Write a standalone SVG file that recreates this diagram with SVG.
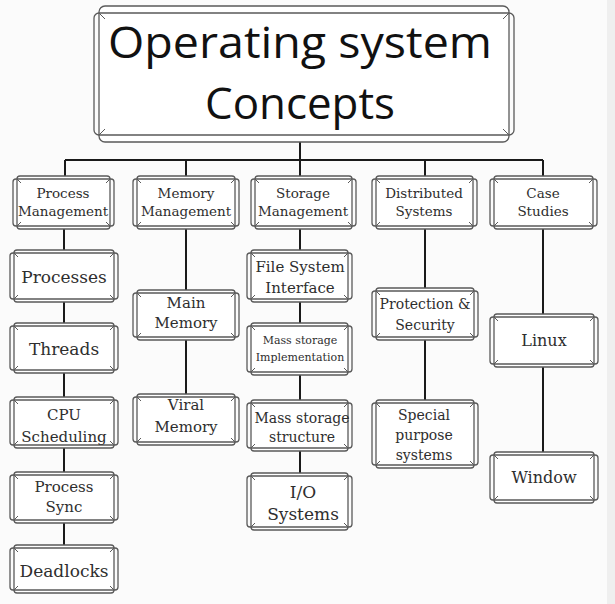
<svg xmlns="http://www.w3.org/2000/svg" width="615" height="604" viewBox="0 0 615 604">
<style>
.bg{fill:#fbfbfb}
.a{fill:#ffffff;stroke:#5a5a5a;stroke-width:1.3}
.b{fill:none;stroke:#5a5a5a;stroke-width:1.3}
.k{fill:none;stroke:#5a5a5a;stroke-width:1}
.c{fill:none;stroke:#1a1a1a;stroke-width:2}
.t{font-family:'DejaVu Serif','Liberation Serif',serif;fill:#2e2e2e;text-anchor:middle}
.h{font-family:'Open Sans','Noto Sans',sans-serif;fill:#111;text-anchor:middle;font-size:44px}
.s13{font-size:13.5px}.s11{font-size:11px}.s14{font-size:14px}.s15{font-size:15px}.s16{font-size:16px}.s17{font-size:17px}
</style>
<rect class="bg" x="0" y="0" width="615" height="604"/>
<rect x="607" y="0" width="8" height="604" fill="#efefef"/>
<g id="connectors">
<path class="c" d="M300 142V176M65 160H543M65 160V176M186 160V176M425 160V176M543 160V176"/>
<path class="c" d="M64 229V545M186 229V394M300 229V473M425 229V400M543 229V452"/>
</g>
<g id="title">
<rect class="a" x="99" y="6" width="410" height="136" rx="6"/>
<rect class="b" x="94" y="13" width="420" height="122" rx="5"/>
<path class="k" d="M99 13l6 6M509 13l-6 6M99 135l6-6M509 135l-6-6"/>
<text class="h" x="300" y="58" textLength="384" lengthAdjust="spacingAndGlyphs">Operating system</text>
<text class="h" x="300" y="119" textLength="190" lengthAdjust="spacingAndGlyphs">Concepts</text>
</g>
<g id="process-management" font-family="DejaVu Serif, serif">
<rect class="a" x="17" y="176" width="93" height="53" rx="3"/>
<rect class="b" x="13" y="179" width="101" height="47" rx="3"/>
<path class="k" d="M17 179l4 4M110 179l-4 4M17 226l4-4M110 226l-4-4"/>
<text class="t s13" x="63" y="198">Process</text>
<text class="t s13" x="63" y="216">Management</text>
</g>
<g id="memory-management">
<rect class="a" x="137" y="176" width="98" height="53" rx="3"/>
<rect class="b" x="133" y="179" width="106" height="47" rx="3"/>
<path class="k" d="M137 179l4 4M235 179l-4 4M137 226l4-4M235 226l-4-4"/>
<text class="t s13" x="186" y="198">Memory</text>
<text class="t s13" x="186" y="216">Management</text>
</g>
<g id="storage-management">
<rect class="a" x="255" y="176" width="97" height="53" rx="3"/>
<rect class="b" x="251" y="179" width="105" height="47" rx="3"/>
<path class="k" d="M255 179l4 4M352 179l-4 4M255 226l4-4M352 226l-4-4"/>
<text class="t s13" x="303" y="198">Storage</text>
<text class="t s13" x="303" y="216">Management</text>
</g>
<g id="distributed-systems">
<rect class="a" x="376" y="176" width="97" height="53" rx="3"/>
<rect class="b" x="372" y="179" width="105" height="47" rx="3"/>
<path class="k" d="M376 179l4 4M473 179l-4 4M376 226l4-4M473 226l-4-4"/>
<text class="t s13" x="424" y="198">Distributed</text>
<text class="t s13" x="424" y="216">Systems</text>
</g>
<g id="case-studies">
<rect class="a" x="494" y="176" width="99" height="53" rx="3"/>
<rect class="b" x="490" y="179" width="107" height="47" rx="3"/>
<path class="k" d="M494 179l4 4M593 179l-4 4M494 226l4-4M593 226l-4-4"/>
<text class="t s13" x="543" y="198">Case</text>
<text class="t s13" x="543" y="216">Studies</text>
</g>
<g id="processes">
<rect class="a" x="14" y="250" width="100" height="52" rx="3"/>
<rect class="b" x="10" y="253" width="108" height="46" rx="3"/>
<path class="k" d="M14 253l4 4M114 253l-4 4M14 299l4-4M114 299l-4-4"/>
<text class="t s17" x="64" y="283">Processes</text>
</g>
<g id="threads">
<rect class="a" x="14" y="323" width="100" height="50" rx="3"/>
<rect class="b" x="10" y="326" width="108" height="44" rx="3"/>
<path class="k" d="M14 326l4 4M114 326l-4 4M14 370l4-4M114 370l-4-4"/>
<text class="t s17" x="64" y="355">Threads</text>
</g>
<g id="cpu-scheduling">
<rect class="a" x="14" y="397" width="100" height="51" rx="3"/>
<rect class="b" x="10" y="400" width="108" height="45" rx="3"/>
<path class="k" d="M14 400l4 4M114 400l-4 4M14 445l4-4M114 445l-4-4"/>
<text class="t s15" x="64" y="420">CPU</text>
<text class="t s15" x="64" y="442">Scheduling</text>
</g>
<g id="process-sync">
<rect class="a" x="14" y="472" width="100" height="51" rx="3"/>
<rect class="b" x="10" y="475" width="108" height="45" rx="3"/>
<path class="k" d="M14 475l4 4M114 475l-4 4M14 520l4-4M114 520l-4-4"/>
<text class="t s15" x="64" y="492">Process</text>
<text class="t s15" x="64" y="512">Sync</text>
</g>
<g id="deadlocks">
<rect class="a" x="14" y="545" width="100" height="48" rx="3"/>
<rect class="b" x="10" y="548" width="108" height="42" rx="3"/>
<path class="k" d="M14 548l4 4M114 548l-4 4M14 590l4-4M114 590l-4-4"/>
<text class="t s17" x="64" y="577">Deadlocks</text>
</g>
<g id="main-memory">
<rect class="a" x="137" y="290" width="98" height="50" rx="3"/>
<rect class="b" x="133" y="293" width="106" height="44" rx="3"/>
<path class="k" d="M137 293l4 4M235 293l-4 4M137 337l4-4M235 337l-4-4"/>
<text class="t s15" x="186" y="308">Main</text>
<text class="t s15" x="186" y="328">Memory</text>
</g>
<g id="viral-memory">
<rect class="a" x="137" y="394" width="98" height="51" rx="3"/>
<rect class="b" x="133" y="397" width="106" height="45" rx="3"/>
<path class="k" d="M137 397l4 4M235 397l-4 4M137 442l4-4M235 442l-4-4"/>
<text class="t s15" x="186" y="410">Viral</text>
<text class="t s15" x="186" y="432">Memory</text>
</g>
<g id="file-system-interface">
<rect class="a" x="251" y="250" width="97" height="52" rx="3"/>
<rect class="b" x="247" y="253" width="105" height="46" rx="3"/>
<path class="k" d="M251 253l4 4M348 253l-4 4M251 299l4-4M348 299l-4-4"/>
<text class="t s15" x="300" y="272">File System</text>
<text class="t s15" x="300" y="293">Interface</text>
</g>
<g id="mass-storage-implementation">
<rect class="a" x="251" y="323" width="97" height="52" rx="3"/>
<rect class="b" x="247" y="326" width="105" height="46" rx="3"/>
<path class="k" d="M251 326l4 4M348 326l-4 4M251 372l4-4M348 372l-4-4"/>
<text class="t s11" x="300" y="344">Mass storage</text>
<text class="t s11" x="300" y="361">Implementation</text>
</g>
<g id="mass-storage-structure">
<rect class="a" x="251" y="400" width="97" height="51" rx="3"/>
<rect class="b" x="247" y="403" width="105" height="45" rx="3"/>
<path class="k" d="M251 403l4 4M348 403l-4 4M251 448l4-4M348 448l-4-4"/>
<text class="t s14" x="302" y="423">Mass storage</text>
<text class="t s14" x="302" y="442">structure</text>
</g>
<g id="io-systems">
<rect class="a" x="251" y="473" width="97" height="57" rx="3"/>
<rect class="b" x="247" y="476" width="105" height="51" rx="3"/>
<path class="k" d="M251 476l4 4M348 476l-4 4M251 527l4-4M348 527l-4-4"/>
<text class="t s17" x="303" y="498">I/O</text>
<text class="t s17" x="303" y="520">Systems</text>
</g>
<g id="protection-security">
<rect class="a" x="376" y="288" width="98" height="52" rx="3"/>
<rect class="b" x="372" y="291" width="106" height="46" rx="3"/>
<path class="k" d="M376 291l4 4M474 291l-4 4M376 337l4-4M474 337l-4-4"/>
<text class="t s14" x="425" y="309">Protection &amp;</text>
<text class="t s14" x="425" y="330">Security</text>
</g>
<g id="special-purpose-systems">
<rect class="a" x="376" y="400" width="98" height="68" rx="3"/>
<rect class="b" x="372" y="403" width="106" height="62" rx="3"/>
<path class="k" d="M376 403l4 4M474 403l-4 4M376 465l4-4M474 465l-4-4"/>
<text class="t s14" x="424" y="420">Special</text>
<text class="t s14" x="424" y="440">purpose</text>
<text class="t s14" x="424" y="460">systems</text>
</g>
<g id="linux">
<rect class="a" x="494" y="314" width="100" height="53" rx="3"/>
<rect class="b" x="490" y="317" width="108" height="47" rx="3"/>
<path class="k" d="M494 317l4 4M594 317l-4 4M494 364l4-4M594 364l-4-4"/>
<text class="t s16" x="544" y="346">Linux</text>
</g>
<g id="window">
<rect class="a" x="494" y="452" width="100" height="51" rx="3"/>
<rect class="b" x="490" y="455" width="108" height="45" rx="3"/>
<path class="k" d="M494 455l4 4M594 455l-4 4M494 500l4-4M594 500l-4-4"/>
<text class="t s16" x="544" y="483">Window</text>
</g>
</svg>
